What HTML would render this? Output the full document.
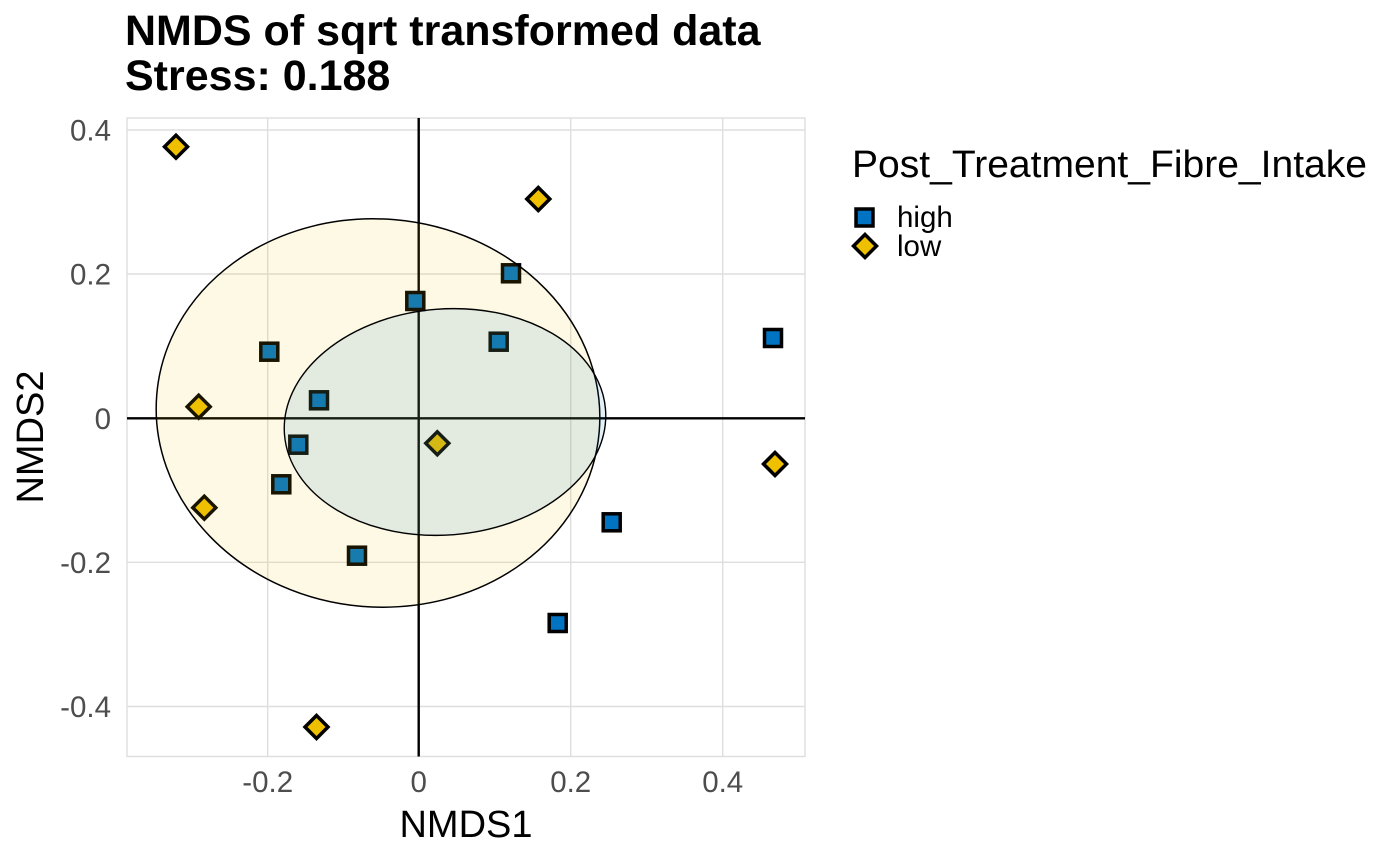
<!DOCTYPE html>
<html>
<head>
<meta charset="utf-8">
<style>
html,body{margin:0;padding:0;background:#fff;}
svg{display:block;}
text{font-family:"Liberation Sans", Arial, sans-serif;}
</style>
</head>
<body>
<svg width="1400" height="860" viewBox="0 0 1400 860" xmlns="http://www.w3.org/2000/svg">
  <rect x="0" y="0" width="1400" height="860" fill="#ffffff"/>

  <!-- Title -->
  <text x="125" y="45" font-size="43" font-weight="bold" fill="#000">NMDS of sqrt transformed data</text>
  <text x="125" y="90" font-size="43" font-weight="bold" fill="#000">Stress: 0.188</text>

  <!-- gridlines -->
  <g stroke="#DEDEDE" stroke-width="1.4" fill="none">
    <line x1="267.7" y1="118" x2="267.7" y2="756.5"/>
    <line x1="570.7" y1="118" x2="570.7" y2="756.5"/>
    <line x1="722.7" y1="118" x2="722.7" y2="756.5"/>
    <line x1="127" y1="130" x2="805" y2="130"/>
    <line x1="127" y1="274" x2="805" y2="274"/>
    <line x1="127" y1="562.3" x2="805" y2="562.3"/>
    <line x1="127" y1="706.5" x2="805" y2="706.5"/>
    <rect x="127" y="118" width="678" height="638.5"/>
  </g>

  <!-- zero lines -->
  <line x1="418.7" y1="118" x2="418.7" y2="756.5" stroke="#000" stroke-width="2.4"/>
  <line x1="127" y1="418.3" x2="805" y2="418.3" stroke="#000" stroke-width="2.4"/>

  <!-- points: low (diamonds) -->
  <g fill="#EFC000" stroke="#000" stroke-width="3.5" stroke-linejoin="miter">
    <path d="M176,135.2 L187.5,146.7 L176,158.2 L164.5,146.7 Z"/>
    <path d="M538.3,187.5 L549.8,199 L538.3,210.5 L526.8,199 Z"/>
    <path d="M198.7,395.2 L210.2,406.7 L198.7,418.2 L187.2,406.7 Z"/>
    <path d="M204.3,496.2 L215.8,507.7 L204.3,519.2 L192.8,507.7 Z"/>
    <path d="M437.3,431.8 L448.8,443.3 L437.3,454.8 L425.8,443.3 Z"/>
    <path d="M775,452.5 L786.5,464 L775,475.5 L763.5,464 Z"/>
    <path d="M316.5,715.5 L328,727 L316.5,738.5 L305,727 Z"/>
  </g>

  <!-- points: high (squares) -->
  <g fill="#0073C2" stroke="#000" stroke-width="3.5">
    <rect x="502.5" y="264.8" width="17" height="17"/>
    <rect x="406.8" y="292.5" width="17" height="17"/>
    <rect x="260.8" y="343.2" width="17" height="17"/>
    <rect x="490.2" y="333.2" width="17" height="17"/>
    <rect x="764.5" y="329.5" width="17" height="17"/>
    <rect x="310.5" y="391.8" width="17" height="17"/>
    <rect x="289.8" y="436.2" width="17" height="17"/>
    <rect x="272.8" y="475.8" width="17" height="17"/>
    <rect x="348.5" y="547.2" width="17" height="17"/>
    <rect x="603.2" y="513.8" width="17" height="17"/>
    <rect x="549.2" y="614.5" width="17" height="17"/>
  </g>

  <!-- ellipses -->
  <ellipse cx="378" cy="413" rx="222" ry="194" transform="rotate(4.8 378 413)"
           fill="#EFC000" fill-opacity="0.1" stroke="#000" stroke-width="1.5"/>
  <ellipse cx="445" cy="422" rx="161" ry="113" transform="rotate(-4.5 445 422)"
           fill="#0073C2" fill-opacity="0.1" stroke="#000" stroke-width="1.4"/>

  <!-- y tick labels -->
  <g font-size="29.5" fill="#4D4D4D" text-anchor="end">
    <text x="111" y="140.5">0.4</text>
    <text x="111" y="284.5">0.2</text>
    <text x="111" y="428.8">0</text>
    <text x="111" y="572.8">-0.2</text>
    <text x="111" y="717">-0.4</text>
  </g>

  <!-- x tick labels -->
  <g font-size="29.5" fill="#4D4D4D" text-anchor="middle">
    <text x="267.7" y="792">-0.2</text>
    <text x="418.7" y="792">0</text>
    <text x="570.7" y="792">0.2</text>
    <text x="722.7" y="792">0.4</text>
  </g>

  <!-- axis titles -->
  <text x="466" y="837" font-size="38" fill="#000" text-anchor="middle">NMDS1</text>
  <text transform="translate(43 437) rotate(-90)" x="0" y="0" font-size="38" fill="#000" text-anchor="middle">NMDS2</text>

  <!-- legend -->
  <text x="852" y="177" font-size="38" fill="#000" textLength="515" lengthAdjust="spacingAndGlyphs">Post_Treatment_Fibre_Intake</text>
  <rect x="856" y="209" width="17" height="17" fill="#0073C2" stroke="#000" stroke-width="3.5"/>
  <path d="M865,234.5 L876.5,246 L865,257.5 L853.5,246 Z" fill="#EFC000" stroke="#000" stroke-width="3.5"/>
  <text x="897" y="227" font-size="29.5" fill="#000">high</text>
  <text x="897" y="256" font-size="29.5" fill="#000">low</text>
</svg>
</body>
</html>
